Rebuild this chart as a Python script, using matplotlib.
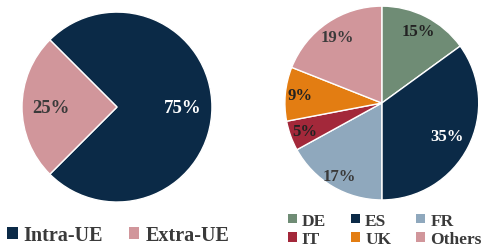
import matplotlib
matplotlib.use("Agg")
import matplotlib.pyplot as plt
import numpy as np
from matplotlib.patches import Patch

left_labels = ["Intra-UE", "Extra-UE"]
left_values = [75, 25]
left_colors = ["#0b2a47", "#d1969b"]
left_text_colors = ["white", "#3a3a3a"]

right_labels = ["DE", "ES", "FR", "IT", "UK", "Others"]
right_values = [15, 35, 17, 5, 9, 19]
right_colors = ["#6f8c75", "#0b2a47", "#8fa8bd", "#a3283a", "#e37d12", "#d1969b"]
right_text_colors = ["#222222", "white", "#3a3a3a", "#222222", "#222222", "#3a3a3a"]
right_label_dist = [0.83, 0.76, 0.87, 0.84, 0.85, 0.82]

plt.rcParams['font.family'] = ['Liberation Serif', 'DejaVu Serif']

fig = plt.figure(figsize=(4.87, 2.51), dpi=100)

def draw_pie(rect, values, colors, startangle, counterclock, dists, tcolors, fs):
    ax = fig.add_axes(rect)
    wedges, _ = ax.pie(values, colors=colors, startangle=startangle,
                       counterclock=counterclock, radius=1,
                       wedgeprops=dict(edgecolor="white", linewidth=1.0))
    for w, v, d, c in zip(wedges, values, dists, tcolors):
        ang = np.deg2rad((w.theta1 + w.theta2) / 2)
        ax.text(d * np.cos(ang), d * np.sin(ang), f"{v}%", ha="center", va="center",
                fontsize=fs, fontweight="bold", color=c)
    ax.set_xlim(-1, 1)
    ax.set_ylim(-1, 1)
    ax.set_aspect("equal")
    ax.axis("off")
    return ax

draw_pie([0.0452, 0.191, 0.390, 0.757], left_values, left_colors, 225, True,
         [0.69, 0.70], left_text_colors, 13.5)
draw_pie([0.585, 0.199, 0.398, 0.773], right_values, right_colors, 90, False,
         right_label_dist, right_text_colors, 12)

lh = [Patch(facecolor=c, edgecolor="none") for c in left_colors]
fig.legend(lh, left_labels, loc="center", bbox_to_anchor=(0.243, 0.06), ncol=2,
           frameon=False, prop=dict(family="Liberation Serif", weight="bold", size=14.5),
           labelcolor="#3a3a3a", handlelength=0.5, handleheight=0.5, handletextpad=0.3,
           columnspacing=1.3)

# reorder so rows read DE ES FR / IT UK Others (legend fills column-wise)
order = [0, 3, 1, 4, 2, 5]
rh = [Patch(facecolor=right_colors[i], edgecolor="none") for i in order]
rl = [right_labels[i] for i in order]
fig.legend(rh, rl, loc="center", bbox_to_anchor=(0.79, 0.08), ncol=3,
           frameon=False, prop=dict(family="Liberation Serif", weight="bold", size=12.5),
           labelcolor="#3a3a3a", handlelength=0.5, handleheight=0.5, handletextpad=0.3,
           columnspacing=1.45, labelspacing=0.15, borderpad=0.2)

fig.savefig("out.png", dpi=100)
